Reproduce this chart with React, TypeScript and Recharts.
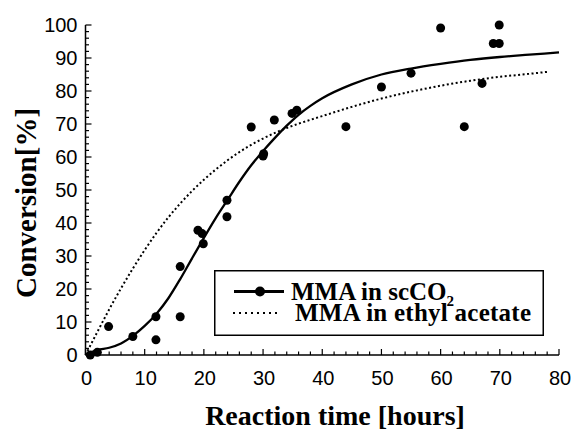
import {
  ComposedChart,
  Line,
  Scatter,
  XAxis,
  YAxis,
  Legend
} from 'recharts';

// measured conversion points, MMA in scCO2
const pointX = [0.8, 2, 3.9, 8, 11.9, 11.9, 16, 16, 19, 19.7, 19.9, 23.9, 23.9, 28, 30.1, 30, 31.9, 34.9, 35.7, 44, 50, 55, 60, 64, 67, 68.9, 69.9, 69.9];
const pointY = [0, 0.8, 8.6, 5.6, 11.6, 4.6, 26.8, 11.6, 37.8, 36.8, 33.7, 46.9, 41.9, 69.1, 61, 60.3, 71.2, 73.2, 74.2, 69.2, 81.2, 85.4, 99.1, 69.2, 82.3, 94.4, 94.4, 100];

// fitted curve, scCO2 (solid)
const solidX = [0.5, 2, 4, 6, 8, 10, 12, 14, 16, 18, 20, 22, 24, 26, 28, 30, 32, 34, 36, 38, 40, 45, 50, 55, 60, 65, 70, 75, 80];
const solidY = [0.5, 1.5, 2.2, 3.5, 5.8, 8.8, 12.5, 17.2, 23, 29.3, 35.5, 41.5, 47, 52.5, 57.5, 61.8, 65.8, 69.5, 72.8, 75.5, 77.8, 82, 85, 86.8, 88.2, 89.4, 90.3, 91, 91.7];

// fitted curve, ethyl acetate (dotted)
const dottedX = [0, 2, 4, 6, 8, 10, 12, 14, 16, 18, 20, 22, 24, 26, 28, 30, 32, 34, 36, 40, 45, 50, 55, 60, 65, 70, 75, 78];
const dottedY = [0, 7, 13.8, 20.2, 26.2, 31.8, 37, 41.7, 45.9, 49.7, 53.1, 56.2, 59, 61.5, 63.7, 65.6, 67.3, 68.8, 70.1, 72.4, 75.2, 77.7, 79.8, 81.6, 83.1, 84.3, 85.2, 85.8];

const xTicks = [0, 2, 4, 6, 8, 10, 12, 14, 16, 18, 20, 22, 24, 26, 28, 30, 32, 34, 36, 38, 40, 42, 44, 46, 48, 50, 52, 54, 56, 58, 60, 62, 64, 66, 68, 70, 72, 74, 76, 78, 80];
const yTicks = [0, 2, 4, 6, 8, 10, 12, 14, 16, 18, 20, 22, 24, 26, 28, 30, 32, 34, 36, 38, 40, 42, 44, 46, 48, 50, 52, 54, 56, 58, 60, 62, 64, 66, 68, 70, 72, 74, 76, 78, 80, 82, 84, 86, 88, 90, 92, 94, 96, 98, 100];

const points = pointX.map((x, i) => ({ x, y: pointY[i] }));
const solid = solidX.map((x, i) => ({ x, y: solidY[i] }));
const dotted = dottedX.map((x, i) => ({ x, y: dottedY[i] }));

const sans = '"Liberation Sans", Arial, sans-serif';
const serif = '"Liberation Serif", "Times New Roman", serif';

const isMajor = (v: number) => v % 10 === 0;

function BottomTick({ x, y, payload }: any) {
  const major = isMajor(payload.value);
  return (
    <g>
      <line x1={x} y1={y} x2={x} y2={y - (major ? 6 : 3.5)} stroke="#000" strokeWidth={1.2} />
      {major && (
        <text x={x + 1} y={y + 30} textAnchor="middle" fontFamily={sans} fontSize={20} fill="#000">
          {payload.value}
        </text>
      )}
    </g>
  );
}

function TopTick({ x, y, payload }: any) {
  const major = isMajor(payload.value);
  return <line x1={x} y1={y} x2={x} y2={y + (major ? 6 : 3.5)} stroke="#000" strokeWidth={1.2} />;
}

function LeftTick({ x, y, payload }: any) {
  const major = isMajor(payload.value);
  return (
    <g>
      <line x1={x} y1={y} x2={x + (major ? 6 : 3.5)} y2={y} stroke="#000" strokeWidth={1.2} />
      {major && (
        <text x={x - 8} y={y + 7} textAnchor="end" fontFamily={sans} fontSize={20} fill="#000">
          {payload.value}
        </text>
      )}
    </g>
  );
}

function RightTick({ x, y, payload }: any) {
  const major = isMajor(payload.value);
  return <line x1={x} y1={y} x2={x - (major ? 6 : 3.5)} y2={y} stroke="#000" strokeWidth={1.2} />;
}

function Dot({ cx, cy }: any) {
  return <circle cx={cx} cy={cy} r={4.5} fill="#000" />;
}

function LegendBox() {
  return (
    <svg width={330} height={66}>
      <rect x={0.75} y={0.75} width={328.5} height={64.5} fill="#fff" stroke="#000" strokeWidth={1.5} />
      <line x1={20} y1={21.5} x2={70} y2={21.5} stroke="#000" strokeWidth={3} />
      <circle cx={46} cy={21.5} r={5} fill="#000" />
      <text x={77} y={30} fontFamily={serif} fontWeight="bold" fontSize={25} fill="#000">
        MMA in scCO<tspan dy={6} fontSize={15}>2</tspan>
      </text>
      <line x1={19} y1={43} x2={64} y2={43} stroke="#000" strokeWidth={2} strokeDasharray="2 4" />
      <text x={81} y={51} fontFamily={serif} fontWeight="bold" fontSize={25} fill="#000" textLength={236}>
        MMA in ethyl acetate
      </text>
    </svg>
  );
}

export default function App() {
  return (
    <div style={{ position: 'absolute', left: 0, top: 0, background: '#fff' }}>
      <ComposedChart width={577} height={432} margin={{ top: 25, right: 18, bottom: 37, left: 25.5 }}>
        <XAxis
          dataKey="x"
          type="number"
          domain={[0, 80]}
          ticks={xTicks}
          interval={0}
          height={40}
          tickSize={0}
          tickMargin={0}
          tickLine={false}
          axisLine={{ stroke: '#000', strokeWidth: 1.5 }}
          tick={<BottomTick />}
        />
        <XAxis
          xAxisId="top"
          orientation="top"
          dataKey="x"
          type="number"
          domain={[0, 80]}
          ticks={xTicks}
          interval={0}
          height={0}
          tickSize={0}
          tickMargin={0}
          tickLine={false}
          axisLine={{ stroke: '#000', strokeWidth: 1.5 }}
          tick={<TopTick />}
        />
        <YAxis
          dataKey="y"
          type="number"
          domain={[0, 100]}
          ticks={yTicks}
          interval={0}
          width={60}
          tickSize={0}
          tickMargin={0}
          tickLine={false}
          axisLine={{ stroke: '#000', strokeWidth: 1.5 }}
          tick={<LeftTick />}
        />
        <YAxis
          yAxisId="right"
          orientation="right"
          dataKey="y"
          type="number"
          domain={[0, 100]}
          ticks={yTicks}
          interval={0}
          width={0}
          tickSize={0}
          tickMargin={0}
          tickLine={false}
          axisLine={{ stroke: '#000', strokeWidth: 1.5 }}
          tick={<RightTick />}
        />
        <Line
          data={dotted}
          dataKey="y"
          type="monotone"
          stroke="#000"
          strokeWidth={2}
          strokeDasharray="2 2.5"
          dot={false}
          isAnimationActive={false}
        />
        <Line
          data={solid}
          dataKey="y"
          type="monotone"
          stroke="#000"
          strokeWidth={2.3}
          dot={false}
          isAnimationActive={false}
        />
        <Scatter data={points} dataKey="y" shape={<Dot />} isAnimationActive={false} />
        <Legend
          layout="vertical"
          align="center"
          verticalAlign="middle"
          wrapperStyle={{ left: 214, top: 270, width: 330, height: 66 }}
          content={() => <LegendBox />}
        />
        <text x={335} y={425} textAnchor="middle" fontFamily={serif} fontWeight="bold" fontSize={28} fill="#000">
          Reaction time [hours]
        </text>
        <text
          x={35.5}
          y={203}
          transform="rotate(-90 35.5 203)"
          textAnchor="middle"
          fontFamily={serif}
          fontWeight="bold"
          fontSize={29}
          fill="#000"
        >
          Conversion[%]
        </text>
      </ComposedChart>
    </div>
  );
}
